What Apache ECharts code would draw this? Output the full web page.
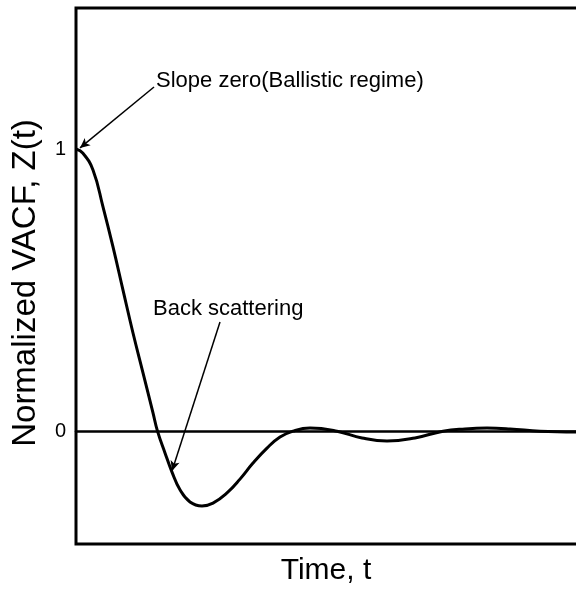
<!DOCTYPE html>
<html>
<head>
<meta charset="utf-8">
<script src="https://cdn.jsdelivr.net/npm/echarts@6/dist/echarts.min.js"></script>
<style>
html,body{margin:0;padding:0;background:#fff;}
#chart{width:576px;height:596px;}
</style>
</head>
<body>
<div id="chart"></div>
<script>
// Time (arbitrary units) and normalized VACF values
var times = [0, 0.14, 0.34, 0.54, 0.74, 0.94, 1.14, 1.34, 1.54, 1.63, 1.78, 1.92, 2.08, 2.28, 2.52, 2.74, 3.02, 3.28, 3.54, 3.82, 4.08, 4.34, 4.68, 5.22, 5.72, 6.22, 6.78, 7.34, 7.78, 8.22, 8.68, 9.28, 10.0];
var zValues = [1.0, 0.985, 0.926, 0.795, 0.653, 0.500, 0.348, 0.207, 0.065, 0.0, -0.077, -0.145, -0.208, -0.251, -0.265, -0.255, -0.219, -0.170, -0.113, -0.060, -0.021, 0.0, 0.011, 0.0, -0.024, -0.035, -0.024, 0.0, 0.008, 0.011, 0.008, 0.0, -0.003];
var yTickValues = [0, 1];
var xTitle = 'Time, t';
var yTitle = 'Normalized VACF, Z(t)';
var annoTexts = ['Slope zero(Ballistic regime)', 'Back scattering'];
var annoTextAt = [[1.60, 1.241], [1.54, 0.433]];
var annoArrowFrom = [[1.56, 1.220], [2.88, 0.387]];
var annoArrowTo = [[0.08, 1.004], [1.92, -0.141]];

var FONT = '"Liberation Sans", Arial, Helvetica, sans-serif';
var chart = echarts.init(document.getElementById('chart'));

var seriesData = times.map(function (t, i) { return [t, zValues[i]]; });
var arrowData = annoArrowFrom.map(function (p, i) {
  return [{ coord: p }, { coord: annoArrowTo[i] }];
});
var textData = annoTexts.map(function (s, i) {
  return { coord: annoTextAt[i], name: s };
});

chart.setOption({
  animation: false,
  backgroundColor: '#fff',
  grid: {
    left: 76, right: -10, top: 8, bottom: 52,
    outerBoundsMode: 'none',
    show: true, borderColor: '#000', borderWidth: 3, backgroundColor: 'transparent'
  },
  xAxis: {
    type: 'value', min: 0, max: 10.2,
    axisLine: { show: true, onZero: true, lineStyle: { color: '#000', width: 2.5 } },
    axisTick: { show: false }, axisLabel: { show: false }, splitLine: { show: false }
  },
  yAxis: {
    type: 'value', min: -0.4, max: 1.5,
    axisLine: { show: false },
    axisTick: { show: false },
    splitLine: { show: false },
    axisLabel: {
      customValues: yTickValues,
      color: '#000', fontFamily: FONT, fontSize: 20, margin: 10
    }
  },
  graphic: [
    {
      type: 'text', x: 326, y: 571,
      style: {
        text: xTitle, align: 'center', verticalAlign: 'middle',
        font: '30px ' + FONT, fill: '#000'
      }
    },
    {
      type: 'text', x: 26, y: 283, rotation: Math.PI / 2,
      style: {
        text: yTitle, align: 'center', verticalAlign: 'middle',
        font: '33px ' + FONT, fill: '#000'
      }
    }
  ],
  series: [{
    type: 'line',
    data: seriesData,
    smooth: 0.45,
    showSymbol: false,
    lineStyle: { color: '#000', width: 3 },
    markLine: {
      silent: true,
      symbol: ['none', 'arrow'],
      symbolSize: [7, 10],
      lineStyle: { color: '#000', width: 1.5, type: 'solid' },
      label: { show: false },
      data: arrowData
    },
    markPoint: {
      silent: true,
      symbol: 'circle',
      symbolSize: 0,
      itemStyle: { color: 'transparent' },
      label: {
        show: true,
        position: 'right',
        distance: 0,
        formatter: '{b}',
        color: '#000',
        fontFamily: FONT,
        fontSize: 22
      },
      data: textData
    }
  }]
});
</script>
</body>
</html>
